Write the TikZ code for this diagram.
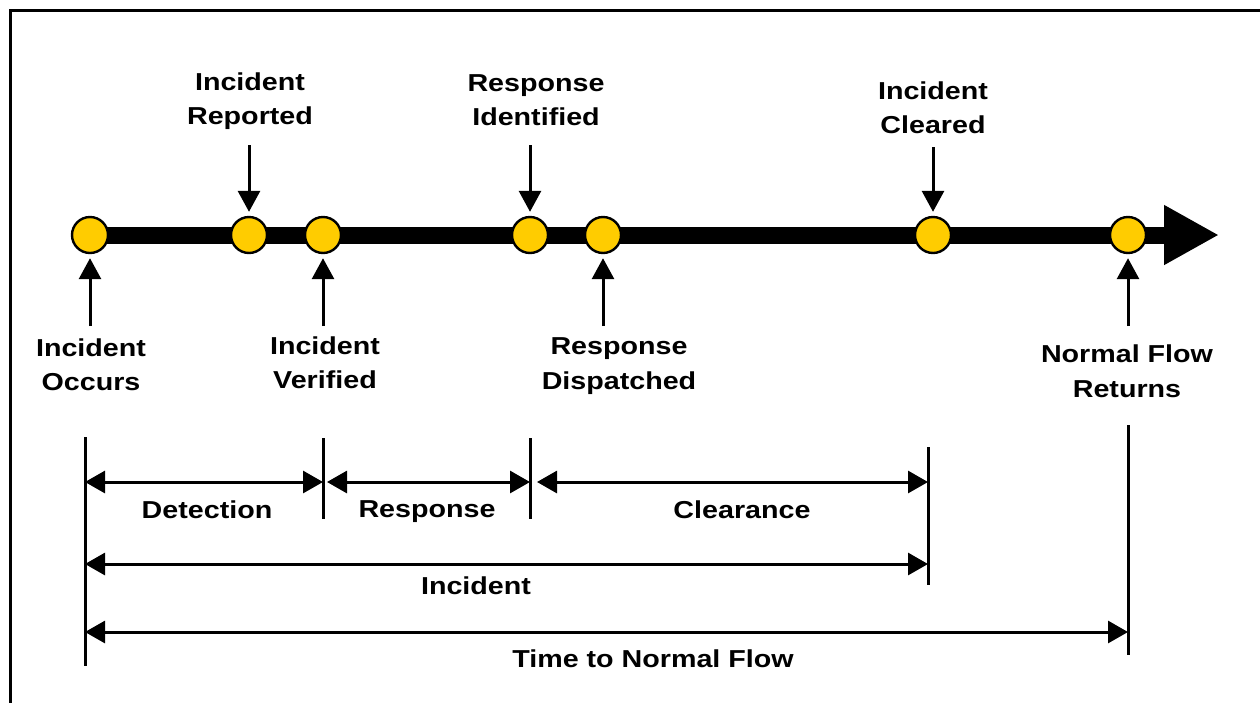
\documentclass[tikz,border=0pt]{standalone}
\usepackage{fontspec}
\setmainfont{Liberation Sans}[FakeStretch=1.17]
\usetikzlibrary{arrows.meta,backgrounds}
\definecolor{gold}{HTML}{FFCC00}

\begin{document}
\begin{tikzpicture}[x=1pt,y=-1pt]
\tikzstyle{event}=[circle, minimum size = 36pt, inner sep=0pt, line width=2.4pt, draw =black, fill = gold]
\tikzstyle{lbl}=[align=center, inner sep=0pt, font=\fontsize{24.5}{34.5}\selectfont\bfseries]
\tikzstyle{ptr}=[-{Triangle[length=21pt,width=22pt]}, line width=3pt, shorten >=4pt]
\tikzstyle{span}=[{Triangle[length=20pt,width=22pt]}-{Triangle[length=20pt,width=22pt]}, line width=3pt]
\tikzstyle{tick}=[line width=3pt]
\useasboundingbox (0,0) rectangle (1260,702);
\begin{scope}
  \clip (0,0) rectangle (1260,702);
  \draw[line width=3.6pt] (10.5,10.5) rectangle (1300,760);
\end{scope}
% events on the time line
  \node[event] (occ) at (90,235) {};
  \node[event] (rep) at (249,235) {};
  \node[event] (ver) at (323,235) {};
  \node[event] (ide) at (530,235) {};
  \node[event] (dis) at (603,235) {};
  \node[event] (clr) at (933,235) {};
  \node[event] (nrm) at (1128,235) {};
  \coordinate (axend) at (1219,235);
\begin{scope}[on background layer]
  \draw[line width=17pt, -{Triangle[length=55pt,width=56pt]}] (occ.center) -- (axend);
\end{scope}
% labels
  \node[lbl] (repL) at (250,101) {Incident\\Reported};
  \node[lbl] (ideL) at (536,100) {Response\\Identified};
  \node[lbl] (clrL) at (933,107.5) {Incident\\Cleared};
  \node[lbl] (occL) at (91,364.5) {Incident\\Occurs};
  \node[lbl] (verL) at (325,362.5) {Incident\\Verified};
  \node[lbl] (disL) at (619,366) {Response\\Dispatched};
  \node[lbl] (nrmL) at (1127,371) {Normal Flow\\Returns};
% pointers
  \coordinate (repT) at (249,145);
  \coordinate (ideT) at (530,145);
  \coordinate (clrT) at (933,147);
  \coordinate (occB) at (90,326);
  \coordinate (verB) at (323,326);
  \coordinate (disB) at (603,326);
  \coordinate (nrmB) at (1128,326);
\path[ptr] (repT) edge (rep)
           (ideT) edge (ide)
           (clrT) edge (clr)
           (occB) edge (occ)
           (verB) edge (ver)
           (disB) edge (dis)
           (nrmB) edge (nrm)
           ;
% spans
\foreach \n/\x/\a/\b in {t0/85/437/666, t1/323/438/519, t2/530/438/519, t3/928/447/585, t4/1128/425/655}
  \draw[tick] (\x,\a) coordinate (\n) -- (\x,\b);
  \draw[span] (t0 |- 0,482) -- (t1 |- 0,482);
  \draw[span] ([xshift=4pt]t1 |- 0,482) -- (t2 |- 0,482);
  \draw[span] ([xshift=7pt]t2 |- 0,482) -- (t3 |- 0,482);
  \draw[span] (t0 |- 0,564) -- (t3 |- 0,564);
  \draw[span] (t0 |- 0,632) -- (t4 |- 0,632);
  \node[lbl, anchor=base] (det) at (207,518) {Detection};
  \node[lbl, anchor=base] (res) at (427,517) {Response};
  \node[lbl, anchor=base] (cle) at (742,518) {Clearance};
  \node[lbl, anchor=base] (inc) at (476,594) {Incident};
  \node[lbl, anchor=base] (tnf) at (653,667) {Time to Normal Flow};
\end{tikzpicture}
\end{document}
